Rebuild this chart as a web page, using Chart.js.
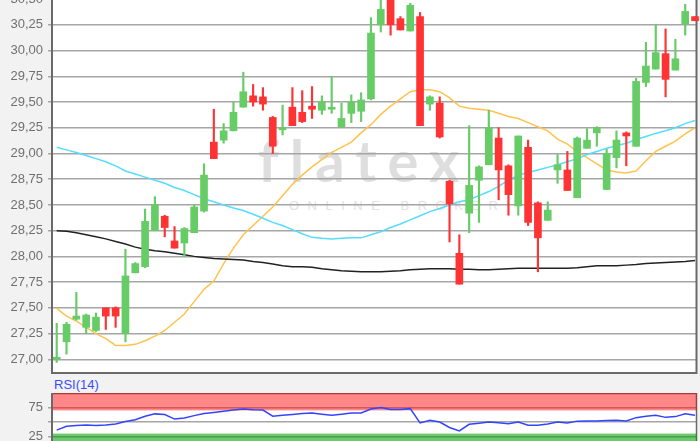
<!DOCTYPE html>
<html>
<head>
<meta charset="utf-8">
<script src="https://cdn.jsdelivr.net/npm/chart.js@4/dist/chart.umd.min.js"></script>
<style>
html, body { margin: 0; padding: 0; width: 700px; height: 441px; overflow: hidden; background: #f2f2f2; }
#plotBg { position: absolute; left: 52px; top: 0; width: 645px; height: 374px; background: #fff; }
#rsiBg { position: absolute; left: 52px; top: 393px; width: 645px; height: 48px; background: #fff; }
#wmLogo { position: absolute; left: 258px; top: 131px; font: 700 58px/1 Lato, sans-serif; letter-spacing: 11px; color: #dedede; }
#wmSub { position: absolute; left: 289px; top: 198px; font: 400 13px/16px "Liberation Sans", Arial, sans-serif; letter-spacing: 8.5px; color: #e2e2e2; }
#main { position: absolute; left: 0; top: -26px; }
#rsi { position: absolute; left: 0; top: 393px; }
#rsiLabel { position: absolute; left: 54px; top: 377px; font: 13px "Liberation Sans", Arial, sans-serif; color: #3a4cff; }
</style>
</head>
<body>
<div id="plotBg"></div>
<div id="rsiBg"></div>
<div id="wmLogo">flatex</div>
<div id="wmSub">ONLINE BROKER</div>
<canvas id="main" width="700" height="400"></canvas>
<div id="rsiLabel">RSI(14)</div>
<canvas id="rsi" width="700" height="58"></canvas>
<script>
// Kurse (Tageskerzen)
const opens  = [27.00,27.17,27.39,27.31,27.28,27.50,27.50,27.25,27.84,27.90,28.25,28.39,28.15,28.13,28.23,28.44,29.11,29.13,29.22,29.45,29.56,29.55,29.35,29.23,29.45,29.40,29.46,29.42,29.43,29.26,29.39,29.41,29.53,30.25,30.58,30.31,30.19,30.33,29.48,29.49,28.73,28.03,28.42,28.74,28.89,29.15,28.88,28.49,29.06,28.52,28.35,28.84,28.84,28.57,29.05,29.20,28.65,28.96,29.20,29.07,29.69,29.82,29.97,29.81,30.26,30.33];
const highs  = [27.35,27.36,27.65,27.44,27.45,27.50,27.51,28.07,27.94,28.46,28.58,28.40,28.29,28.28,28.50,28.90,29.43,29.29,29.50,29.79,29.67,29.64,29.36,29.47,29.64,29.61,29.65,29.56,29.75,29.49,29.57,29.59,30.32,30.52,30.62,30.33,30.46,30.37,29.56,29.55,28.74,28.21,29.27,28.88,29.42,29.25,28.89,29.17,29.13,28.53,28.53,28.99,29.02,29.16,29.24,29.26,29.04,29.22,29.21,29.73,30.08,30.25,30.21,30.11,30.45,30.33];
const lows   = [26.97,27.05,27.38,27.25,27.27,27.29,27.31,27.17,27.84,27.89,28.25,28.19,28.08,28.00,28.23,28.43,28.95,29.10,29.22,29.45,29.46,29.42,29.00,29.18,29.27,29.30,29.34,29.38,29.39,29.25,29.30,29.31,29.52,30.18,30.15,30.20,30.19,29.27,29.42,29.15,28.14,27.73,28.23,28.33,28.89,28.55,28.40,28.40,28.30,27.85,28.35,28.71,28.64,28.57,29.05,29.07,28.65,28.86,28.88,29.07,29.65,29.82,29.55,29.81,30.15,30.29];
const closes = [27.02,27.34,27.42,27.43,27.41,27.42,27.42,27.81,27.93,28.34,28.50,28.28,28.08,28.27,28.48,28.79,28.95,29.22,29.40,29.60,29.50,29.48,29.07,29.24,29.27,29.31,29.43,29.50,29.44,29.34,29.50,29.52,30.17,30.40,30.25,30.20,30.44,29.27,29.55,29.16,28.51,27.73,28.69,28.87,29.25,28.84,28.60,29.17,28.33,28.18,28.45,28.89,28.64,29.15,29.13,29.25,29.00,29.13,29.17,29.70,29.85,29.98,29.72,29.92,30.38,30.29];

// gleitende Durchschnitte
const maShort = [27.495,27.42,27.37,27.31,27.25,27.20,27.135,27.135,27.145,27.18,27.225,27.28,27.36,27.44,27.56,27.68,27.76,27.93,28.08,28.21,28.30,28.39,28.48,28.59,28.70,28.79,28.87,28.94,29.01,29.06,29.11,29.20,29.28,29.38,29.46,29.53,29.60,29.62,29.62,29.60,29.54,29.46,29.44,29.43,29.42,29.39,29.36,29.34,29.30,29.26,29.22,29.14,29.09,29.02,28.96,28.90,28.84,28.82,28.81,28.83,28.93,29.02,29.07,29.12,29.19,29.25];
const maMid   = [29.06,29.035,29.01,28.98,28.95,28.92,28.88,28.83,28.80,28.77,28.74,28.71,28.67,28.64,28.60,28.56,28.53,28.50,28.47,28.445,28.41,28.37,28.33,28.30,28.26,28.22,28.185,28.175,28.17,28.175,28.18,28.18,28.21,28.24,28.28,28.315,28.355,28.395,28.435,28.465,28.50,28.53,28.55,28.59,28.63,28.68,28.74,28.79,28.815,28.84,28.865,28.89,28.92,28.95,28.99,29.02,29.05,29.075,29.10,29.135,29.165,29.195,29.22,29.25,29.29,29.32];
const maLong  = [28.25,28.245,28.23,28.21,28.19,28.17,28.145,28.12,28.09,28.07,28.055,28.045,28.03,28.015,28.00,27.99,27.98,27.975,27.97,27.965,27.95,27.94,27.925,27.91,27.90,27.90,27.895,27.88,27.87,27.86,27.855,27.85,27.85,27.85,27.855,27.86,27.87,27.875,27.88,27.88,27.88,27.875,27.875,27.87,27.87,27.875,27.88,27.885,27.885,27.885,27.885,27.885,27.885,27.89,27.90,27.91,27.91,27.91,27.915,27.92,27.93,27.935,27.94,27.945,27.95,27.96];

// RSI(14)
const rsiValues = [36,42.5,44,45,44,45,46.5,51,54,60,64,63,55,57,61,64.5,66.5,68.5,70.5,72.5,71,70.5,60,61.5,63,64.5,65.5,63.5,61.5,63.5,65.5,65.5,72.5,74.8,71.6,71.4,73,48.3,53,50,40.5,34.5,46,48,50,48.5,47.2,50,44.3,44.3,46.5,50,48.3,51.5,51.7,51.7,52.5,53,51.7,57.5,60,61.5,58,59.3,64,61.5];

const priceTicks = [27.00,27.25,27.50,27.75,28.00,28.25,28.50,28.75,29.00,29.25,29.50,29.75,30.00,30.25,30.50];
const rsiTicks = [25, 50, 75];
const rsiTickLabels = ['25', '', '75'];
const rsiBands = [30, 70];

const up = '#66cc66', down = '#ff3333';
const candleColors = opens.map((o, i) => closes[i] >= o ? up : down);
const idx = opens.map((o, i) => i);
const labelFont = { family: '"Liberation Sans", Arial, sans-serif', size: 13 };

function fixAxis(scale) {
    scale.width = 52;
    scale.paddingTop = 0;
    scale.paddingBottom = 0;
}

const xAxis = { type: 'linear', min: -0.479, max: 65.2, offset: false, display: false };

const framePlugin = {
    id: 'frame',
    beforeDatasetsDraw(chart, args, opts) {
        const { ctx, chartArea: a } = chart;
        ctx.save();
        ctx.strokeStyle = opts.color;
        ctx.lineWidth = opts.width;
        ctx.beginPath();
        if (opts.top) { ctx.moveTo(a.left, a.top + 0.5); ctx.lineTo(a.right, a.top + 0.5); }
        if (opts.bottom) { ctx.moveTo(a.left, a.bottom - 1); ctx.lineTo(a.right, a.bottom - 1); }
        ctx.moveTo(a.right - 0.5, a.top); ctx.lineTo(a.right - 0.5, a.bottom);
        ctx.stroke();
        ctx.restore();
    }
};

new Chart(document.getElementById('main'), {
    type: 'bar',
    data: {
        datasets: [
            { type: 'line', data: idx.map(i => ({ x: i, y: maLong[i] })), borderColor: '#222222', borderWidth: 1.5, pointRadius: 0, order: 2, clip: false },
            { type: 'line', data: idx.map(i => ({ x: i, y: maMid[i] })), borderColor: '#55dcff', borderWidth: 1.5, pointRadius: 0, order: 2, clip: false },
            { type: 'line', data: idx.map(i => ({ x: i, y: maShort[i] })), borderColor: '#ffc34d', borderWidth: 1.5, pointRadius: 0, order: 2, clip: false },
            { data: idx.map(i => ({ x: i, y: [lows[i], highs[i]] })), backgroundColor: candleColors, barThickness: 1.5, grouped: false, order: 1, clip: false },
            { data: idx.map(i => ({ x: i, y: [opens[i], closes[i]] })), backgroundColor: candleColors, barThickness: 7, minBarLength: 2, grouped: false, order: 0, clip: false }
        ]
    },
    options: {
        responsive: false,
        animation: false,
        layout: { padding: { left: 0, right: 3, top: 0, bottom: 0 } },
        plugins: { legend: { display: false }, tooltip: { enabled: false },
            frame: { color: '#6a6a6a', width: 2, bottom: true } },
        scales: {
            x: xAxis,
            y: {
                min: 26.857, max: 30.744,
                afterFit: fixAxis,
                afterBuildTicks: s => { s.ticks = priceTicks.map(v => ({ value: v })); },
                grid: { color: '#a6a6a6', lineWidth: 1.5, tickLength: 4 },
                border: { display: true, color: '#6a6a6a', width: 2 },
                ticks: { color: '#707070', font: labelFont, padding: 5,
                    callback: v => v.toFixed(2).replace('.', ',') }
            }
        }
    },
    plugins: [framePlugin]
});

const bandPlugin = {
    id: 'bands',
    beforeDatasetsDraw(chart) {
        const { ctx, chartArea: a, scales: { y } } = chart;
        ctx.save();
        ctx.fillStyle = 'rgba(255, 0, 0, 0.47)';
        ctx.fillRect(a.left + 1, y.getPixelForValue(100), a.right - a.left - 1, y.getPixelForValue(rsiBands[1]) - y.getPixelForValue(100));
        ctx.fillStyle = 'rgba(0, 160, 0, 0.57)';
        ctx.fillRect(a.left + 1, y.getPixelForValue(rsiBands[0]), a.right - a.left - 1, y.getPixelForValue(0) - y.getPixelForValue(rsiBands[0]));
        ctx.restore();
    }
};

new Chart(document.getElementById('rsi'), {
    type: 'line',
    data: {
        datasets: [
            { data: idx.map(i => ({ x: i, y: rsiValues[i] })), borderColor: '#3344ff', borderWidth: 1.5, pointRadius: 0 }
        ]
    },
    options: {
        responsive: false,
        animation: false,
        layout: { padding: { left: 0, right: 3, top: 0, bottom: 0 } },
        plugins: { legend: { display: false }, tooltip: { enabled: false },
            frame: { color: '#6a6a6a', width: 1.5, top: true } },
        scales: {
            x: xAxis,
            y: {
                min: 0, max: 100,
                afterFit: fixAxis,
                afterBuildTicks: s => { s.ticks = rsiTicks.map(v => ({ value: v })); },
                grid: { color: '#a6a6a6', lineWidth: 1.5, tickLength: 4 },
                border: { display: true, color: '#6a6a6a', width: 2 },
                ticks: { color: '#707070', font: labelFont, padding: 5,
                    callback: (v, i) => rsiTickLabels[i] }
            }
        }
    },
    plugins: [framePlugin, bandPlugin]
});
</script>
</body>
</html>
